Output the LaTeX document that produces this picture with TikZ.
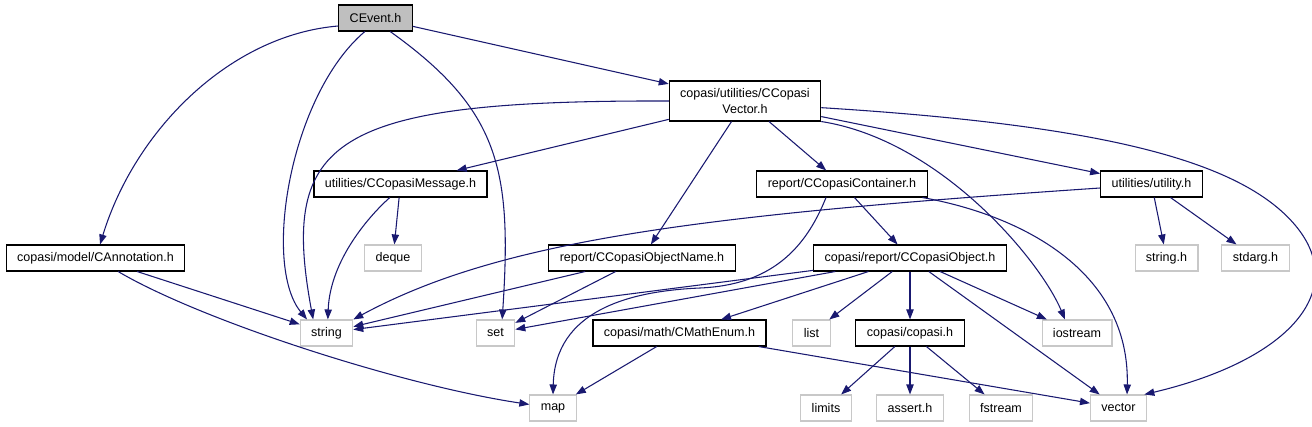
\documentclass[tikz,border=0pt]{standalone}
\usepackage{fontspec}
\setmainfont{Liberation Sans}
\usetikzlibrary{arrows.meta}
\definecolor{edgeblue}{RGB}{25,25,112}
\definecolor{boxgray}{RGB}{191,191,191}
\definecolor{extgray}{RGB}{200,200,200}

\begin{document}
\begin{tikzpicture}[x=0.75pt,y=-0.75pt,node distance=56.25pt,>={Triangle[length=7.5pt,width=5.5pt]},
    font=\fontsize{9.4}{11.5}\selectfont,
    file/.style={draw=black,line width=0.8pt,inner xsep=8.2pt,inner ysep=2pt,minimum height=19.5pt},
    sys/.style={file,draw=extgray},
    dep/.style={->,draw=edgeblue,line width=0.8pt}]
    \useasboundingbox (0,0) rectangle (1312,427);

    % files of the project
    \node[file,fill=boxgray] (CEvent) at (375.5,18) {CEvent.h};
    \node[file,align=center,minimum height=30pt] (CVec) at (745,101) {copasi/utilities/CCopasi\\Vector.h};
    \node[file] (CMsg) at (400.5,184) {utilities/CCopasiMessage.h};
    \node[file] (CCont) at (842,184) {report/CCopasiContainer.h};
    \node[file] (utility) at (1151.5,184) {utilities/utility.h};
    \node[file] (CAnn) at (95.5,258) {copasi/model/CAnnotation.h};
    \node[file] (CObjName) at (642,258) {report/CCopasiObjectName.h};
    \node[file] (CObj) at (910,258) {copasi/report/CCopasiObject.h};
    \node[file] (CMath) at (679.5,333) {copasi/math/CMathEnum.h};
    \node[file,below of=CObj] (copasi) {copasi/copasi.h};

    % system headers
    \node[sys] (deque) at (393,258) {deque};
    \node[sys] (stringh) at (1166.5,258) {string.h};
    \node[sys] (stdarg) at (1255.5,258) {stdarg.h};
    \node[sys] (string) at (326.5,333) {string};
    \node[sys] (set) at (495.5,333) {set};
    \node[sys] (list) at (811.5,333) {list};
    \node[sys] (iostream) at (1077,333) {iostream};
    \node[sys] (map) at (553,408) {map};
    \node[sys] (limits) at (826,408) {limits};
    \node[sys,below of=copasi] (assert) {assert.h};
    \node[sys] (fstream) at (1001,408) {fstream};
    \node[sys] (vector) at (1118.5,408) {vector};

    % CEvent.h
    \draw[dep] ([yshift=-6pt]CEvent.west) .. controls (230,35) and (135,130) .. ([xshift=3.4pt]CAnn.north);
    \draw[dep] ([xshift=-8pt]CEvent.south) .. controls (290,95) and (262,265) .. ([xshift=-14.6pt]string.north);
    \draw[dep] ([xshift=11pt]CEvent.south) .. controls (500,110) and (512,170) .. ([xshift=5pt]set.north);
    \draw[dep] (CEvent) -- (CVec);

    % CCopasiVector.h
    \draw[dep] (CVec.west) .. controls (330,100) and (280,140) .. ([xshift=-10pt]string.north);
    \draw[dep] (CVec) -- (CMsg);
    \draw[dep] (CVec) -- (CObjName);
    \draw[dep] (CVec) -- (CCont);
    \draw[dep] (CVec.south east) .. controls (940,140) and (1040,260) .. ([xshift=-9pt]iostream.north);
    \draw[dep] (CVec) -- (utility);
    \draw[dep] ([yshift=-5pt]CVec.east) .. controls (1100,125) and (1240,160) .. (1295,225)
        .. controls (1350,290) and (1290,360) .. ([xshift=-2pt]vector.north east);

    \draw[dep] (CMsg) -- (deque);
    \draw[dep] ([xshift=-8pt]CMsg.south) .. controls (370,215) and (330,260) .. ([xshift=1pt]string.north);

    \draw[dep] (CAnn) -- (string);
    \draw[dep] ([xshift=17pt]CAnn.south) .. controls (200,320) and (400,385) .. (map);

    \draw[dep] ([xshift=-12pt]CCont.south) .. controls (805,250) and (770,285) .. (700,288)
        .. controls (630,291) and (555,310) .. (map.north);
    \draw[dep] (CCont) -- (CObj);
    \draw[dep] ([xshift=-4pt]CCont.south east) .. controls (1020,215) and (1130,270) .. ([xshift=6.4pt]vector.north);

    \draw[dep] ([yshift=-3pt]utility.west) .. controls (700,215) and (500,240) .. (string.north east);
    \draw[dep] (utility) -- (stringh);
    \draw[dep] (utility) -- (stdarg);

    \draw[dep] (CObjName) -- (string);
    \draw[dep] (CObjName) -- (set);

    % CCopasiObject.h
    \draw[dep] (CObj) -- (string);
    \draw[dep] (CObj) -- (set);
    \draw[dep] (CObj) -- (CMath);
    \draw[dep] (CObj) -- (list);
    \draw[dep] (CObj) -- (copasi);
    \draw[dep] (CObj) -- (iostream);
    \draw[dep] (CObj) -- (vector);

    \draw[dep] (CMath) -- (map);
    \draw[dep] (CMath) -- (vector);

    \draw[dep] (copasi) -- (limits);
    \draw[dep] (copasi) -- (assert);
    \draw[dep] (copasi) -- (fstream);
\end{tikzpicture}
\end{document}
